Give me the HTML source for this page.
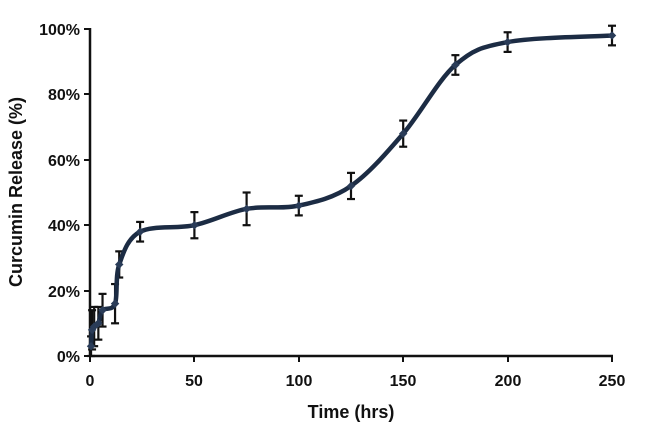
<!DOCTYPE html>
<html><head><meta charset="utf-8"><style>
body{margin:0;background:#fff;width:658px;height:441px;overflow:hidden}
text{font-family:"Liberation Sans",sans-serif;font-weight:bold;fill:#111}
</style></head><body>
<svg id="s" width="658" height="441" viewBox="0 0 658 441">
<g stroke="#111" stroke-width="2.5" fill="none">
<line x1="90" y1="28" x2="90" y2="357"/>
<line x1="89" y1="356" x2="613" y2="356"/>
</g>
<g stroke="#111" stroke-width="2">
<line x1="84" y1="356" x2="90" y2="356"/><line x1="84" y1="291" x2="90" y2="291"/><line x1="84" y1="225" x2="90" y2="225"/><line x1="84" y1="160" x2="90" y2="160"/><line x1="84" y1="94" x2="90" y2="94"/><line x1="84" y1="29" x2="90" y2="29"/>
<line x1="90" y1="356" x2="90" y2="362"/><line x1="194" y1="356" x2="194" y2="362"/><line x1="299" y1="356" x2="299" y2="362"/><line x1="403" y1="356" x2="403" y2="362"/><line x1="508" y1="356" x2="508" y2="362"/><line x1="612" y1="356" x2="612" y2="362"/>
</g>
<g font-size="16" text-anchor="end">
<text x="80" y="362">0%</text><text x="80" y="297">20%</text><text x="80" y="231">40%</text><text x="80" y="166">60%</text><text x="80" y="100">80%</text><text x="80" y="35">100%</text>
</g>
<g font-size="16" text-anchor="middle">
<text x="90" y="386">0</text><text x="194" y="386">50</text><text x="299" y="386">100</text><text x="403" y="386">150</text><text x="508" y="386">200</text><text x="612" y="386">250</text>
</g>
<text x="351" y="418" font-size="18" text-anchor="middle">Time (hrs)</text>
<text transform="translate(22,192) rotate(-90)" font-size="18" text-anchor="middle">Curcumin Release (%)</text>
<g id="d"></g>
</svg>
<script>
var pts=[[0.5,3,3],[1,8,6],[2,9,6],[4,10,5],[6,14,5],[12,16,6],[14,28,4],[24,38,3],[50,40,4],[75,45,5],[100,46,3],[125,52,4],[150,68,4],[175,89,3],[200,96,3],[250,98,3]];
function X(t){return 90+t*2.088}function Y(v){return 356-v*3.27}
var P=pts.map(p=>[X(p[0]),Y(p[1])]);
var d="M"+P[0][0]+","+P[0][1];
for(var i=0;i<P.length-1;i++){var p0=P[Math.max(0,i-1)],p1=P[i],p2=P[i+1],p3=P[Math.min(P.length-1,i+2)];
var c1=[p1[0]+(p2[0]-p0[0])/6,p1[1]+(p2[1]-p0[1])/6],c2=[p2[0]-(p3[0]-p1[0])/6,p2[1]-(p3[1]-p1[1])/6];
d+=" C"+c1+" "+c2+" "+p2;}
var g=document.getElementById("d"),h="";
pts.forEach(p=>{var x=X(p[0]),y1=Y(p[1]+p[2]),y2=Y(p[1]-p[2]);
h+='<g stroke="#111" stroke-width="2.2"><line x1="'+x+'" y1="'+y1+'" x2="'+x+'" y2="'+y2+'"/><line x1="'+(x-4)+'" y1="'+y1+'" x2="'+(x+4)+'" y2="'+y1+'"/><line x1="'+(x-4)+'" y1="'+y2+'" x2="'+(x+4)+'" y2="'+y2+'"/></g>';});
h+='<path d="'+d+'" fill="none" stroke="#1c2c44" stroke-width="4.5"/>';
P.forEach(p=>{h+='<rect x="'+(p[0]-3)+'" y="'+(p[1]-3)+'" width="6" height="6" fill="#2a3c58" transform="rotate(45 '+p[0]+' '+p[1]+')"/>';});
g.innerHTML=h;
</script>
</body></html>
